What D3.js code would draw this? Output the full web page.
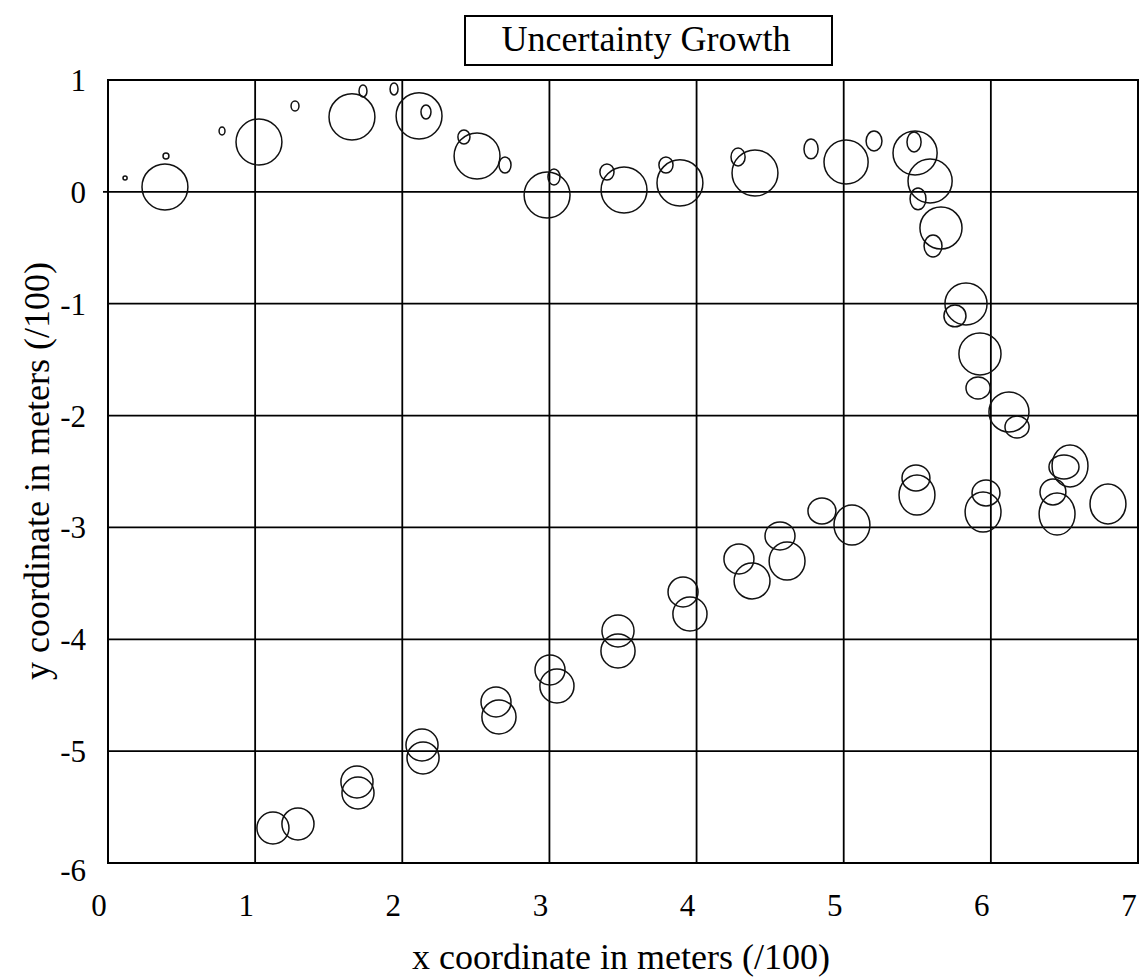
<!DOCTYPE html>
<html>
<head>
<meta charset="utf-8">
<script src="https://cdn.jsdelivr.net/npm/d3@7"></script>
<style>
  html, body { margin: 0; padding: 0; background: #fff; }
  svg { display: block; }
  text { font-family: "Liberation Serif", "Times New Roman", serif; fill: #000; }
</style>
</head>
<body>
<svg id="chart" width="1140" height="978"></svg>
<script>
// ---- data ----
const title = "Uncertainty Growth";
const xLabel = "x coordinate in meters (/100)";
const yLabel = "y coordinate in meters (/100)";
const xTicks = [0, 1, 2, 3, 4, 5, 6, 7];
const yTicks = [1, 0, -1, -2, -3, -4, -5, -6];

// upper trajectory: centre x, centre y, half-width (x units), half-height (y units)
const upperX  = [0.116, 0.387, 0.394, 0.775, 1.026, 1.271, 1.658, 1.733, 1.944, 2.114, 2.161, 2.419, 2.508, 2.698, 2.984, 3.031, 3.391, 3.507, 3.792, 3.887, 4.282, 4.397, 4.778, 5.016, 5.206, 5.485, 5.478, 5.587, 5.505, 5.661, 5.607, 5.831, 5.756, 5.926, 5.913, 6.123, 6.178];
const upperY  = [0.124, 0.044, 0.321, 0.544, 0.446, 0.768, 0.670, 0.902, 0.920, 0.679, 0.714, 0.491, 0.321, 0.240, -0.028, 0.133, 0.178, 0.017, 0.240, 0.080, 0.312, 0.169, 0.384, 0.267, 0.455, 0.348, 0.446, 0.097, -0.063, -0.323, -0.484, -1.002, -1.109, -1.449, -1.753, -1.968, -2.102];
const upperRx = [0.014, 0.156, 0.020, 0.020, 0.156, 0.027, 0.156, 0.027, 0.027, 0.156, 0.034, 0.041, 0.156, 0.041, 0.156, 0.041, 0.048, 0.156, 0.048, 0.156, 0.048, 0.156, 0.048, 0.150, 0.054, 0.150, 0.048, 0.150, 0.054, 0.143, 0.061, 0.143, 0.075, 0.143, 0.082, 0.136, 0.082];
const upperRy = [0.018, 0.206, 0.027, 0.036, 0.206, 0.045, 0.206, 0.054, 0.054, 0.206, 0.063, 0.063, 0.206, 0.072, 0.206, 0.072, 0.072, 0.206, 0.072, 0.206, 0.080, 0.206, 0.089, 0.197, 0.089, 0.197, 0.089, 0.197, 0.098, 0.188, 0.098, 0.188, 0.098, 0.188, 0.098, 0.179, 0.098];

// lower trajectory
const lowerX  = [1.121, 1.291, 1.692, 1.699, 2.134, 2.141, 2.637, 2.657, 3.004, 3.051, 3.466, 3.466, 3.908, 3.955, 4.288, 4.377, 4.567, 4.615, 4.852, 5.056, 5.491, 5.498, 5.967, 5.947, 6.422, 6.450, 6.497, 6.538, 6.796];
const lowerY  = [-5.687, -5.651, -5.275, -5.374, -4.945, -5.061, -4.560, -4.694, -4.274, -4.417, -3.925, -4.104, -3.577, -3.774, -3.282, -3.478, -3.076, -3.300, -2.853, -2.978, -2.558, -2.710, -2.692, -2.862, -2.683, -2.880, -2.459, -2.450, -2.790];
const lowerRx = [0.109, 0.109, 0.109, 0.109, 0.109, 0.109, 0.102, 0.116, 0.102, 0.116, 0.109, 0.116, 0.102, 0.116, 0.102, 0.122, 0.102, 0.122, 0.095, 0.122, 0.095, 0.122, 0.095, 0.122, 0.088, 0.122, 0.102, 0.122, 0.122];
const lowerRy = [0.143, 0.143, 0.143, 0.143, 0.143, 0.143, 0.134, 0.152, 0.134, 0.152, 0.143, 0.152, 0.134, 0.152, 0.134, 0.161, 0.125, 0.170, 0.116, 0.179, 0.116, 0.179, 0.116, 0.179, 0.116, 0.188, 0.107, 0.188, 0.179];

// ---- layout ----
const svg = d3.select("#chart");
const pLeft = 108, pRight = 1138, pTop = 80, pBottom = 863;
const x = d3.scaleLinear().domain([0, 7]).range([pLeft, pRight]);
const y = d3.scaleLinear().domain([-6, 1]).range([pBottom, pTop]);

const ellipses = [];
upperX.forEach((v, i) => ellipses.push({ cx: v, cy: upperY[i], rx: upperRx[i], ry: upperRy[i] }));
lowerX.forEach((v, i) => ellipses.push({ cx: v, cy: lowerY[i], rx: lowerRx[i], ry: lowerRy[i] }));

// grid lines
const g = svg.append("g");
g.selectAll("line.vg").data(xTicks.filter(t => t > 0 && t < 7)).join("line")
  .attr("class", "vg")
  .attr("x1", d => x(d)).attr("x2", d => x(d))
  .attr("y1", pTop).attr("y2", pBottom)
  .attr("stroke", "#000").attr("stroke-width", 1.8);
g.selectAll("line.hg").data(yTicks.filter(t => t < 1 && t > -6)).join("line")
  .attr("class", "hg")
  .attr("x1", pLeft).attr("x2", pRight)
  .attr("y1", d => y(d)).attr("y2", d => y(d))
  .attr("stroke", "#000").attr("stroke-width", 1.8);
// small tick at y = 0
g.append("line").attr("x1", pLeft - 5).attr("x2", pLeft).attr("y1", y(0)).attr("y2", y(0))
  .attr("stroke", "#000").attr("stroke-width", 1.8);

// plot border
g.append("rect").attr("x", pLeft).attr("y", pTop)
  .attr("width", pRight - pLeft).attr("height", pBottom - pTop)
  .attr("fill", "none").attr("stroke", "#000").attr("stroke-width", 2);

// ellipses
svg.append("g").selectAll("ellipse").data(ellipses).join("ellipse")
  .attr("cx", d => x(d.cx)).attr("cy", d => y(d.cy))
  .attr("rx", d => x(d.rx) - x(0)).attr("ry", d => y(0) - y(d.ry))
  .attr("fill", "none").attr("stroke", "#111").attr("stroke-width", 1.5);

// tick labels
svg.append("g").selectAll("text").data(xTicks).join("text")
  .attr("x", d => x(d) - 9).attr("y", 916)
  .attr("text-anchor", "middle").attr("font-size", 31)
  .text(d => d);
svg.append("g").selectAll("text").data(yTicks).join("text")
  .attr("x", 86).attr("y", d => y(d) + (d === -6 ? 18 : 11))
  .attr("text-anchor", "end").attr("font-size", 31)
  .text(d => d);

// axis titles
svg.append("text").attr("x", 621).attr("y", 969)
  .attr("text-anchor", "middle").attr("font-size", 36).text(xLabel);
svg.append("text").attr("transform", "translate(49,471) rotate(-90)")
  .attr("text-anchor", "middle").attr("font-size", 36).text(yLabel);

// title box
svg.append("rect").attr("x", 465).attr("y", 16).attr("width", 367).attr("height", 49)
  .attr("fill", "#fff").attr("stroke", "#000").attr("stroke-width", 2);
svg.append("text").attr("x", 646).attr("y", 51)
  .attr("text-anchor", "middle").attr("font-size", 36).text(title);
</script>
</body>
</html>
